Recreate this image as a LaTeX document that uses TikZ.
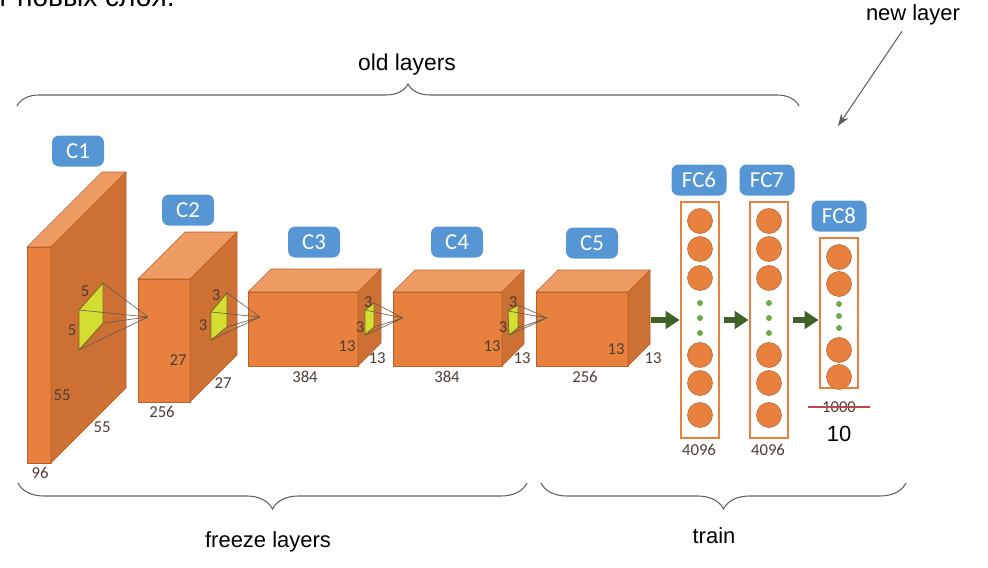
\documentclass[tikz,border=0pt]{standalone}
\usepackage{fontspec}
\setmainfont{Liberation Sans}
\newfontfamily\calibfont{Carlito}
\definecolor{labelblue}{RGB}{86, 150, 212}
\definecolor{cubefront}{RGB}{232, 129, 61}
\definecolor{cubetop}{RGB}{238, 155, 100}
\definecolor{cubeside}{RGB}{205, 112, 52}
\definecolor{cubeedge}{RGB}{185, 95, 40}
\definecolor{kernelyel}{RGB}{212, 222, 50}
\definecolor{kerneledge}{RGB}{120, 110, 30}
\definecolor{rfgray}{RGB}{100, 90, 80}
\definecolor{dimgray}{RGB}{75, 62, 55}
\definecolor{arrgreen}{RGB}{62, 98, 40}
\definecolor{dotgreen}{RGB}{112, 170, 72}
\definecolor{strikered}{RGB}{190, 70, 80}
\definecolor{bracegray}{RGB}{95, 95, 95}
\usepackage{tikz}
\usetikzlibrary{arrows.meta, positioning, decorations.pathreplacing}
\newcommand{\pxu}{0.02cm}
\newcommand{\cubeblock}[5]{%
  \filldraw[frontface] (#1,#2) rectangle ++(#3,#4);
  \filldraw[topface] (#1,#2) -- ++(#5,-#5) -- ++(#3,0) -- ++(-#5,#5) -- cycle;
  \filldraw[sideface] ({#1+#3},#2) -- ++(#5,-#5) -- ++(0,#4) -- ++(-#5,#5) -- cycle;
}

\begin{document}
\begin{tikzpicture}[x=0.02cm, y=-0.02cm,
  frontface/.style={fill=cubefront, draw=cubeedge, line width=0.3pt},
  topface/.style={fill=cubetop, draw=cubeedge, line width=0.3pt},
  sideface/.style={fill=cubeside, draw=cubeedge, line width=0.3pt},
  kernel/.style={fill=kernelyel, draw=kerneledge, line width=0.5pt},
  rfline/.style={draw=rfgray, line width=0.35pt},
  layerbox/.style={fill=labelblue, rounded corners=4pt, text=white, font=\calibfont\fontsize{13}{13}\selectfont, inner sep=0pt, minimum width=52*\pxu, minimum height=31*\pxu},
  dimtext/.style={font=\calibfont\fontsize{9.5}{10}\selectfont, text=dimgray, inner sep=0pt},
  fccol/.style={draw=cubefront, line width=1.6pt, fill=white, inner sep=0pt, minimum width=38*\pxu},
  neuron/.style={circle, fill=cubefront, draw=cubeedge, line width=0.3pt, minimum size=25*\pxu, inner sep=0pt},
  gdot/.style={circle, fill=dotgreen, minimum size=6*\pxu, inner sep=0pt},
  flow/.style={draw=arrgreen, line width=3pt, -{Triangle[length=8pt, width=10pt]}},
  annot/.style={font=\fontsize{12.5}{13}\selectfont, text=black, inner sep=0pt},
  grpbrace/.style={decorate, draw=bracegray, line width=0.6pt},
]
\useasboundingbox (0,0) rectangle (988,568);
\clip (0,0) rectangle (988,568);

\node[anchor=base east, font=\fontsize{16}{16}\selectfont, inner sep=0pt] (cuttxt) at (175,7) {ут новых слоя.};

\foreach \x/\y/\w/\h/\d in {27/247/24/216/75, 138/279/52/123/47, 248/292/110/74/23, 393/292/109/74/22, 536/292/92/74/22} {
  \cubeblock{\x}{\y}{\w}{\h}{\d}
}

\foreach \ax/\ay/\bx/\by/\cx/\cy/\dx/\dy/\tx/\ty in {79/310/103/283/103/323/79/350/148/317, 211/312/227/293/227/327/211/340/260/317, 365/310/374/303/374/327/365/335/403/318, 508/311/518/305/518/328/509/335/547/318} {
  \filldraw[kernel] (\ax,\ay) -- (\bx,\by) -- (\cx,\cy) -- (\dx,\dy) -- cycle;
  \draw[rfline] (\ax,\ay) -- (\tx,\ty) (\bx,\by) -- (\tx,\ty) (\cx,\cy) -- (\tx,\ty) (\dx,\dy) -- (\tx,\ty);
}

\foreach \n/\x/\y in {C1/78/151, C2/188/210, C3/314/242, C4/457/242, C5/592/243}
  \node[layerbox] (\n) at (\x,\y) {\n};
\foreach \n/\x/\y in {FC6/699/180, FC7/767/180, FC8/839/216}
  \node[layerbox, minimum width=55*\pxu] (\n) at (\x,\y) {\n};

\foreach \x/\y/\t [count=\i] in {85/291/5, 72/330/5, 62/395/55, 102/427/55, 40/473/96, 216/295/3, 203/325/3, 178/360/27, 223/383/27, 162/412/256, 368/302/3, 360/327/3, 347/346/13, 377/358/13, 305/377/384, 513/302/3, 503/327/3, 492/346/13, 522/358/13, 447/377/384, 616/349/13, 653/358/13, 585/377/256, 699/450/4096, 768/450/4096}
  \node[dimtext] (dim\i) at (\x,\y) {\t};

\node[fccol, minimum height=236*\pxu] (fc6) at (700,320) {};
\node[fccol, minimum height=236*\pxu] (fc7) at (769,320) {};
\node[fccol, minimum height=150*\pxu] (fc8) at (839,313) {};

\foreach \cx in {700,769} {
  \foreach \cy [count=\k] in {221,249,278,355,383,415}
    \node[neuron] (n\cx-\k) at (\cx,\cy) {};
  \foreach \cy [count=\k] in {303,318,333}
    \node[gdot] (g\cx-\k) at (\cx,\cy) {};
}
\foreach \cy [count=\k] in {257,284,350,377}
  \node[neuron] (n839-\k) at (839,\cy) {};
\foreach \cy [count=\k] in {304,316,328}
  \node[gdot] (g839-\k) at (839,\cy) {};

\coordinate (c5out) at (651,320);
\draw[flow] (c5out) -- (fc6.west);
\draw[flow, shorten <=2pt] (fc6.east) -- (fc7.west);
\draw[flow, shorten <=2pt] (fc7.east) -- (fc8.west |- fc7.east);

\node[dimtext] (n1000) at (839,407) {1000};
\draw[strikered, line width=1.4pt] ([xshift=-8pt]n1000.west) -- ([xshift=8pt]n1000.east);
\node[annot] (n10) at (839,434) {10};

\coordinate (oldL) at (17,106);
\coordinate (oldR) at (799,106);
\draw[grpbrace, decoration={brace, amplitude=0.44cm}] (oldL) -- (oldR);
\node[annot, font=\fontsize{13}{13}\selectfont] (oldlbl) at (407,65) {old layers};

\coordinate (frzL) at (18,483);
\coordinate (frzR) at (527,483);
\draw[grpbrace, decoration={brace, mirror, amplitude=0.52cm}] (frzL) -- (frzR);
\node[annot] (frzlbl) at (268,542) {freeze layers};

\coordinate (trnL) at (541,483);
\coordinate (trnR) at (906,483);
\draw[grpbrace, decoration={brace, mirror, amplitude=0.52cm}] (trnL) -- (trnR);
\node[annot] (trnlbl) at (714,536) {train};

\node[annot] (newlbl) at (913,15) {new layer};
\coordinate (newtip) at (838,126);
\draw[-{Stealth[length=7pt, width=5pt]}, draw=bracegray, line width=0.6pt, shorten <=4pt] (newlbl) -- (newtip);
\end{tikzpicture}
\end{document}
